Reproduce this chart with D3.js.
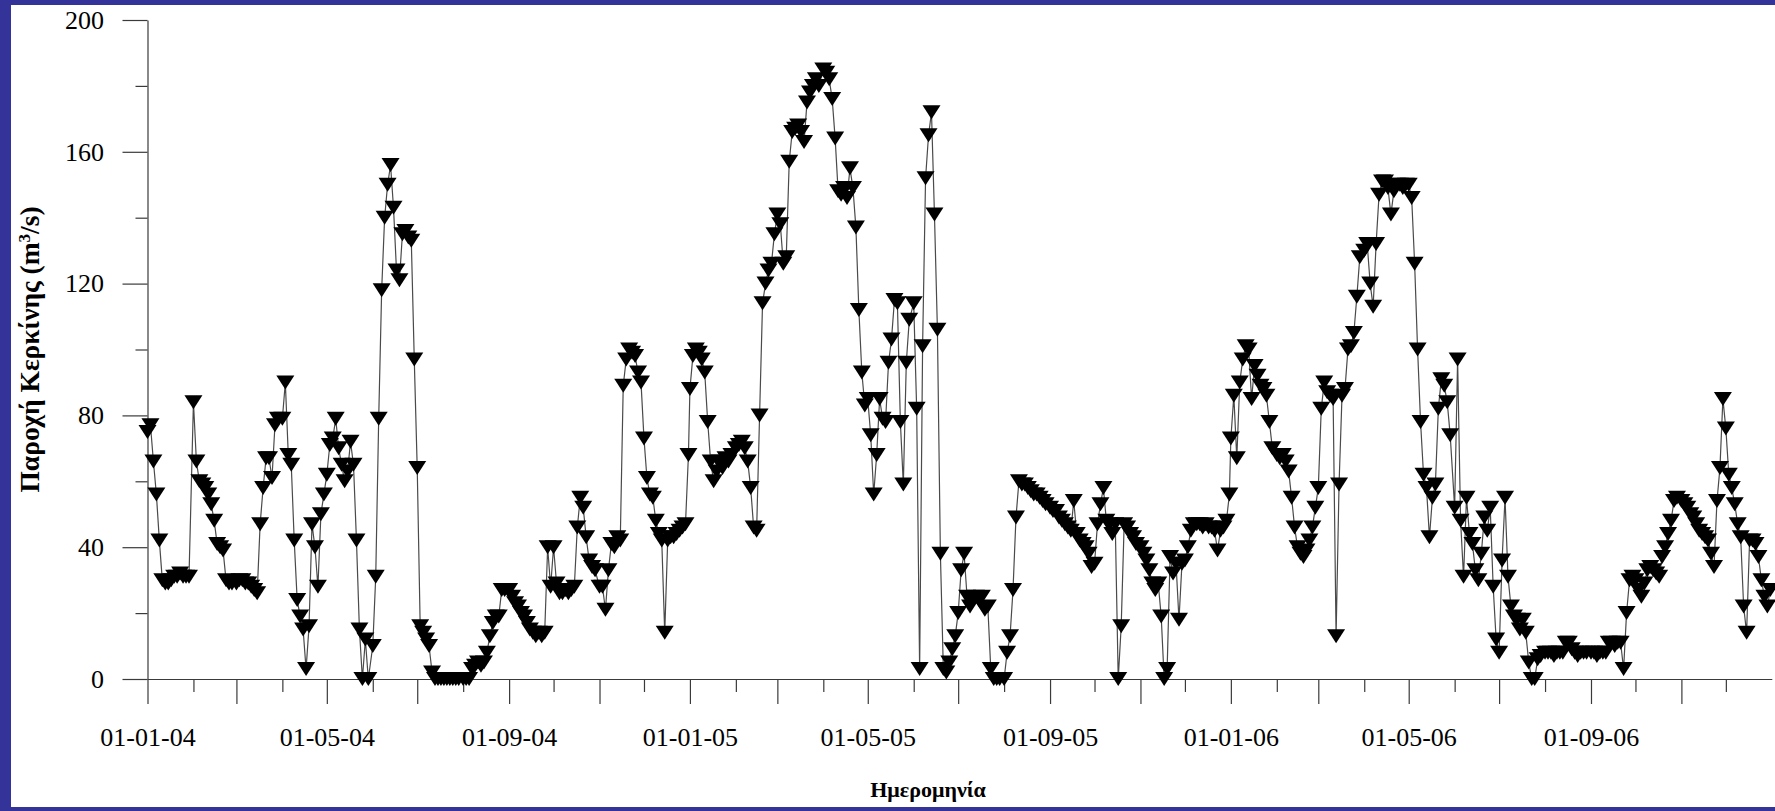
<!DOCTYPE html>
<html>
<head>
<meta charset="utf-8">
<script src="https://cdnjs.cloudflare.com/ajax/libs/d3/7.8.5/d3.min.js"></script>
<style>
  html, body { margin: 0; padding: 0; background: #ffffff; }
  svg { display: block; }
</style>
</head>
<body>
<svg id="chart" width="1775" height="811"></svg>
<script>
// ---- Data: river discharge, sampled on odd days of each month (day 1, 3, 5, ...) ----
const flow2004 = [
  [75, 77, 66, 56, 42, 30, 29, 29, 30, 31, 31, 32, 31, 31, 31],
  [84, 66, 60, 59, 58, 56, 53, 48, 41, 40, 39, 30, 29, 29],
  [29, 30, 30, 29, 29, 28, 27, 26, 47, 58, 67, 67, 61, 77, 79],
  [79, 90, 68, 65, 42, 24, 19, 15, 3, 16, 47, 40, 28, 50, 56],
  [62, 71, 73, 79, 70, 65, 60, 63, 72, 65, 42, 15, 0, 12, 0],
  [10, 31, 79, 118, 140, 150, 156, 143, 124, 121, 135, 136, 134, 133, 97],
  [64, 16, 14, 12, 10, 2, 0, 0, 0, 0, 0, 0, 0, 0, 0],
  [0, 0, 0, 3, 4, 5, 4, 5, 8, 13, 17, 19, 19, 27, 27],
  [27, 25, 23, 22, 20, 19, 17, 15, 14, 13, 14, 13, 14, 40, 28],
  [40, 29, 26, 26, 27, 26, 27, 28, 46, 55, 52, 43, 36, 34, 33],
  [28, 28, 21, 33, 41, 40, 43, 42, 89, 97, 100, 99, 98, 93, 90],
  [73, 61, 56, 55, 48, 44, 42, 14, 42, 43, 43, 44, 45, 46, 47, 68]
];
const flow2005 = [
  [88, 98, 100, 99, 97, 93, 78, 66, 60, 63, 66, 64, 67, 66, 68],
  [70, 71, 72, 70, 66, 58, 46, 45, 80, 114, 120, 124, 126, 135],
  [141, 138, 126, 128, 157, 166, 167, 168, 166, 163, 175, 178, 180, 182, 180],
  [185, 184, 182, 176, 164, 148, 147, 149, 146, 155, 149, 137, 112, 93, 83],
  [85, 74, 56, 68, 85, 79, 78, 96, 103, 115, 114, 78, 59, 96, 109],
  [114, 82, 3, 101, 152, 165, 172, 141, 106, 38, 3, 2, 5, 9, 13],
  [20, 33, 38, 25, 22, 24, 25, 24, 25, 21, 22, 3, 0, 0, 0],
  [0, 8, 13, 27, 49, 60, 59, 59, 58, 57, 56, 56, 55, 54, 53],
  [52, 51, 51, 49, 48, 47, 46, 45, 54, 44, 42, 41, 40, 38, 34],
  [35, 47, 53, 58, 48, 47, 44, 47, 0, 16, 47, 46, 44, 43, 41],
  [40, 38, 36, 33, 29, 27, 29, 19, 0, 3, 37, 32, 35, 18, 35],
  [36, 40, 45, 47, 47, 47, 46, 47, 46, 46, 45, 39, 45, 46, 48, 56]
];
const flow2006 = [
  [73, 86, 67, 90, 97, 101, 100, 85, 95, 92, 89, 88, 86, 78, 70],
  [68, 67, 68, 66, 63, 55, 46, 40, 38, 37, 39, 42, 46, 52],
  [58, 82, 90, 87, 86, 85, 13, 59, 86, 88, 100, 101, 105, 116, 128],
  [130, 132, 120, 113, 132, 147, 151, 151, 149, 141, 148, 150, 150, 149, 150],
  [150, 146, 126, 100, 78, 62, 58, 43, 55, 59, 82, 91, 89, 84, 74],
  [52, 97, 48, 31, 55, 44, 41, 33, 30, 38, 49, 45, 52, 28, 12],
  [8, 36, 55, 31, 22, 19, 18, 15, 18, 14, 5, 0, 0, 6, 7],
  [8, 8, 8, 7, 8, 8, 8, 11, 11, 9, 8, 7, 8, 8, 8],
  [8, 8, 7, 8, 8, 8, 11, 11, 10, 11, 11, 3, 20, 30, 31],
  [30, 27, 25, 29, 33, 34, 33, 32, 31, 37, 40, 44, 48, 54, 55],
  [54, 53, 52, 50, 49, 47, 45, 44, 43, 42, 38, 34, 54, 64, 85],
  [76, 62, 58, 53, 47, 43, 22, 14, 42, 42, 41, 37, 30, 25, 22, 27]
];
const years = [2004, 2005, 2006];
const yMajorTicks = [0, 40, 80, 120, 160, 200];
const yMinorTicks = [20, 60, 100, 140, 180];
const yTitle = "Παροχή Κερκίνης (m";
const yTitleSup = "3";
const yTitleEnd = "/s)";
const xTitle = "Ημερομηνία";

// ---- Build the series ----
const series = [];
[flow2004, flow2005, flow2006].forEach((yearData, yi) => {
  yearData.forEach((monthVals, m) => {
    monthVals.forEach((v, j) => {
      series.push({ date: new Date(Date.UTC(years[yi], m, 1 + 2 * j)), v });
    });
  });
});

const svg = d3.select("#chart");
const W = 1775, H = 811;

// frame
svg.append("rect").attr("x", 0).attr("y", 0).attr("width", W).attr("height", H).attr("fill", "#333399");
svg.append("rect").attr("x", 11).attr("y", 5).attr("width", W - 11).attr("height", 802).attr("fill", "#ffffff");

const x = d3.scaleUtc()
  .domain([new Date(Date.UTC(2004, 0, 1)), new Date(Date.UTC(2007, 0, 1))])
  .range([147.5, 1771.8]);
const y = d3.scaleLinear().domain([0, 200]).range([679, 20]);

const FONT = "'Liberation Serif', 'Times New Roman', serif";
const axisColor = "#3a3a3a";

// Y axis
const yAxisMajor = d3.axisLeft(y).tickValues(yMajorTicks).tickSize(25).tickSizeOuter(0)
  .tickPadding(18.5).tickFormat(d3.format("d"));
svg.append("g").attr("transform", `translate(${x.range()[0]},0)`).call(yAxisMajor);
const yAxisMinor = d3.axisLeft(y).tickValues(yMinorTicks).tickSize(12).tickSizeOuter(0).tickFormat("");
const gy2 = svg.append("g").attr("transform", `translate(${x.range()[0]},0)`).call(yAxisMinor);
gy2.select(".domain").remove();

// X axis
const xEnd = new Date(Date.UTC(2007, 0, 1));
const majorDates = d3.utcMonth.every(2).range(x.domain()[0], xEnd);
const minorDates = d3.utcMonth.every(1).range(x.domain()[0], xEnd).filter(d => d.getUTCMonth() % 2 === 1);
const fmt = d3.utcFormat("%d-%m-%y");
const xAxisMajor = d3.axisBottom(x).tickValues(majorDates).tickSize(25).tickSizeOuter(0)
  .tickPadding(23.5).tickFormat(d => d.getUTCMonth() % 4 === 0 ? fmt(d) : "");
svg.append("g").attr("transform", `translate(0,${y(0)})`).call(xAxisMajor);
const xAxisMinor = d3.axisBottom(x).tickValues(minorDates).tickSize(13).tickSizeOuter(0).tickFormat("");
const gx2 = svg.append("g").attr("transform", `translate(0,${y(0)})`).call(xAxisMinor);
gx2.select(".domain").remove();

svg.selectAll(".domain, .tick line").attr("stroke", axisColor).attr("stroke-width", 1.2);
svg.selectAll(".tick text").attr("font-family", FONT).attr("font-size", "26px").attr("fill", "#000");

// Line
const line = d3.line().x(d => x(d.date)).y(d => y(d.v));
svg.append("path").datum(series)
  .attr("d", line)
  .attr("fill", "none")
  .attr("stroke", "#4a4a4a")
  .attr("stroke-width", 1.2);

// Markers: filled down-pointing triangles
svg.append("g").selectAll("path").data(series).join("path")
  .attr("d", "M-9,-7L9,-7L0,7Z")
  .attr("transform", d => `translate(${x(d.date)},${y(d.v)})`)
  .attr("fill", "#000");

// Y title
const yt = svg.append("text")
  .attr("transform", `translate(39,${(y(0) + y(200)) / 2}) rotate(-90)`)
  .attr("text-anchor", "middle")
  .attr("font-family", FONT).attr("font-weight", "bold").attr("font-size", "27.5px");
yt.append("tspan").text(yTitle);
yt.append("tspan").text(yTitleSup).attr("baseline-shift", "super").attr("font-size", "17px");
yt.append("tspan").text(yTitleEnd);

// X title
svg.append("text")
  .attr("x", 928).attr("y", 797)
  .attr("text-anchor", "middle")
  .attr("font-family", FONT).attr("font-weight", "bold").attr("font-size", "22px")
  .text(xTitle);
</script>
</body>
</html>
